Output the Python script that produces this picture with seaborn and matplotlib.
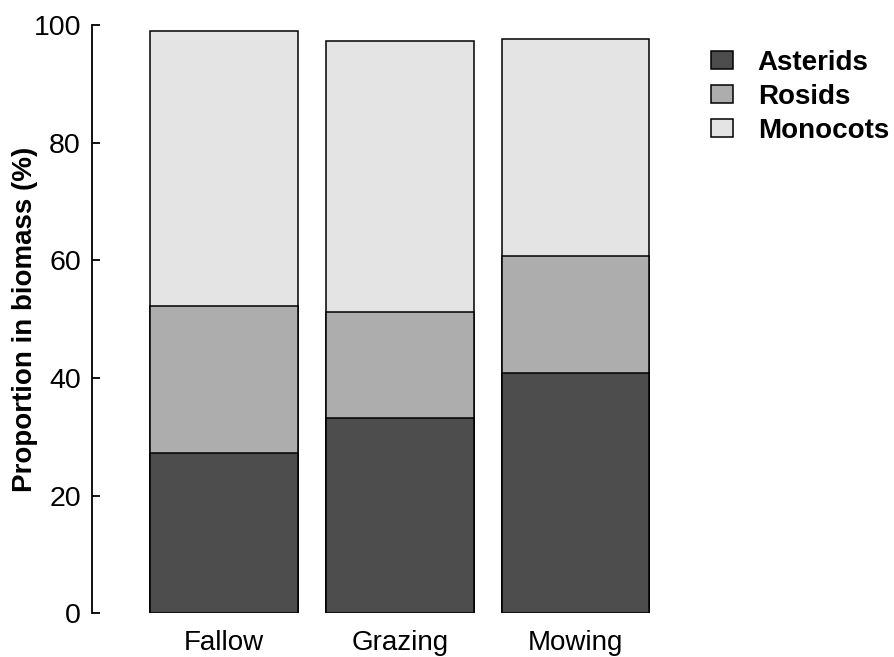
# stacked biomass proportions by management type
import pandas as pd
import matplotlib
matplotlib.use("Agg")
import matplotlib.pyplot as plt
import seaborn as sns
from matplotlib.patches import Patch

# --------------------------------------
# data
# --------------------------------------
treatments = ["Fallow", "Grazing", "Mowing"]
asterids = [27.3, 33.2, 40.8]
rosids = [25.0, 18.0, 20.0]
monocots = [46.6, 46.0, 36.9]

groups = ["Asterids", "Rosids", "Monocots"]
colors = ["#4d4d4d", "#adadad", "#e4e4e4"]

df = pd.DataFrame({"treatment": treatments, "Asterids": asterids,
                   "Rosids": rosids, "Monocots": monocots})
df["cum_ast"] = df["Asterids"]
df["cum_ros"] = df["cum_ast"] + df["Rosids"]
df["cum_mon"] = df["cum_ros"] + df["Monocots"]

# --------------------------------------
# plot
# --------------------------------------
sns.set_style("white")
plt.rcParams["font.family"] = ["Liberation Sans", "DejaVu Sans"]
plt.rcParams["text.color"] = "black"
plt.rcParams["axes.labelcolor"] = "black"
plt.rcParams["xtick.color"] = "black"
plt.rcParams["ytick.color"] = "black"

fig = plt.figure(figsize=(8.94, 6.57), dpi=100)
ax = fig.add_axes([92 / 894, (657 - 613.3) / 657, (680 - 92) / 894, (613.3 - 25) / 657])

# draw tallest first so lower segments sit on top
for col, c in zip(["cum_mon", "cum_ros", "cum_ast"], colors[::-1]):
    sns.barplot(data=df, x="treatment", y=col, color=c, width=0.84,
                edgecolor="black", linewidth=1.1, saturation=1, ax=ax)

ax.set_xlim(-0.751, 2.595)
ax.set_ylim(0, 100)
ax.set_yticks([0, 20, 40, 60, 80, 100])
ax.set_xlabel("")
ax.set_ylabel("Proportion in biomass (%)", fontsize=20, fontweight="bold")
ax.yaxis.set_label_coords(-0.092, 0.5)

for s in ["top", "right", "bottom"]:
    ax.spines[s].set_visible(False)
ax.spines["left"].set_color("black")
ax.spines["left"].set_linewidth(1.3)
ax.tick_params(axis="y", direction="in", length=6, width=1.3, pad=8,
               labelsize=20.5, colors="black", left=True)
ax.tick_params(axis="x", length=0, pad=12, labelsize=20, colors="black")

handles = [Patch(facecolor=c, edgecolor="black", linewidth=1.1) for c in colors]
fig.legend(handles, groups, loc="upper left", bbox_to_anchor=(711 / 894, 1 - 49.5 / 657),
           frameon=False, prop={"size": 20, "weight": "bold"},
           handlelength=0.78, handleheight=0.6, handletextpad=0.9,
           labelspacing=0.29, borderpad=0, borderaxespad=0)

fig.savefig("out.png", dpi=100)
